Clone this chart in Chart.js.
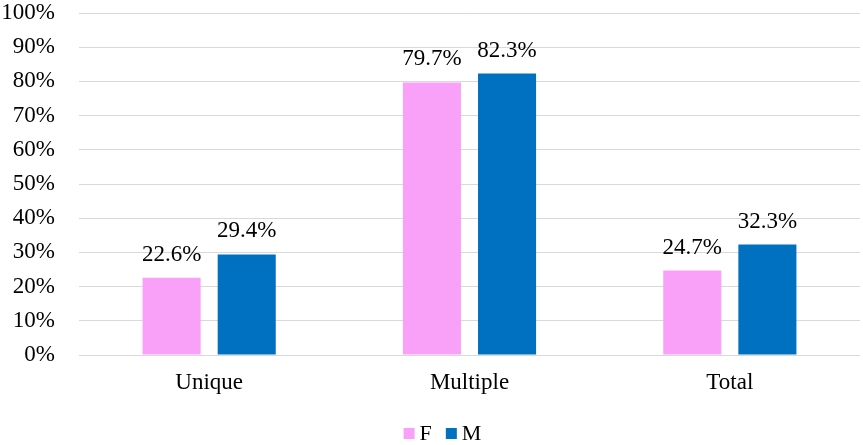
<!DOCTYPE html>
<html>
<head>
<meta charset="utf-8">
<script src="https://cdn.jsdelivr.net/npm/chart.js@4/dist/chart.umd.min.js"></script>
<style>
  html, body { margin: 0; padding: 0; background: #fff; }
  #wrap { width: 863px; height: 445px; }
</style>
</head>
<body>
<div id="wrap"><canvas id="c" width="863" height="445"></canvas></div>
<script>
// Share of cases by type and sex
const categories = ['Unique', 'Multiple', 'Total'];
const femaleValues = [22.6, 79.7, 24.7];
const maleValues = [29.4, 82.3, 32.3];
const seriesNames = ['F', 'M'];
const yTicks = [0, 10, 20, 30, 40, 50, 60, 70, 80, 90, 100];

const FONT = "'Times New Roman', 'Liberation Serif', serif";
const FONT_SIZE = 23;
const LEGEND_FONT_SIZE = 22;

// Value labels drawn above every bar
const barValueLabels = {
  id: 'barValueLabels',
  afterDatasetsDraw(chart) {
    const ctx = chart.ctx;
    ctx.save();
    ctx.font = FONT_SIZE + 'px ' + FONT;
    ctx.fillStyle = '#000';
    ctx.textAlign = 'center';
    ctx.textBaseline = 'alphabetic';
    chart.data.datasets.forEach((ds, i) => {
      const meta = chart.getDatasetMeta(i);
      meta.data.forEach((bar, j) => {
        ctx.fillText(ds.data[j].toFixed(1) + '%', bar.x, bar.y - 17);
      });
    });
    ctx.restore();
  }
};

// Compact legend row under the axis: square swatch, small gap, series name
const compactLegend = {
  id: 'compactLegend',
  afterDraw(chart) {
    const ctx = chart.ctx;
    const box = 11, gap = 5, itemGap = 14;
    ctx.save();
    ctx.font = LEGEND_FONT_SIZE + 'px ' + FONT;
    ctx.textBaseline = 'alphabetic';
    ctx.textAlign = 'left';
    const items = chart.data.datasets.map(ds => ({
      text: ds.label, color: ds.backgroundColor, w: ctx.measureText(ds.label).width
    }));
    const total = items.reduce((s, it) => s + box + gap + it.w, 0) + itemGap * (items.length - 1);
    let x = chart.width / 2 + 11 - total / 2;
    const baseline = chart.height - 5;
    items.forEach(it => {
      ctx.fillStyle = it.color;
      ctx.fillRect(x, baseline - 12, box, box);
      x += box + gap;
      ctx.fillStyle = '#000';
      ctx.fillText(it.text, x, baseline);
      x += it.w + itemGap;
    });
    ctx.restore();
  }
};

new Chart(document.getElementById('c'), {
  type: 'bar',
  data: {
    labels: categories,
    datasets: [
      { label: seriesNames[0], data: femaleValues, backgroundColor: '#F9A1F9' },
      { label: seriesNames[1], data: maleValues, backgroundColor: '#0070C0' }
    ]
  },
  options: {
    responsive: false,
    animation: false,
    layout: { padding: { top: 0, right: 3, left: 0, bottom: 27 } },
    datasets: { bar: { categoryPercentage: 0.577, barPercentage: 0.773 } },
    scales: {
      x: {
        grid: { display: false },
        border: { display: false },
        afterFit(scale) { scale.height = 63; },
        ticks: { color: '#000', font: { family: FONT, size: FONT_SIZE }, padding: 6 }
      },
      y: {
        min: 0,
        max: 100,
        afterBuildTicks(scale) { scale.ticks = yTicks.map(v => ({ value: v })); },
        afterFit(scale) {
          scale.width = 79;
          scale.paddingTop = 13;
          scale.paddingBottom = 0;
        },
        grid: { color: '#D9D9D9', lineWidth: 1, drawTicks: false },
        border: { display: false },
        ticks: {
          color: '#000',
          padding: 24,
          font: { family: FONT, size: FONT_SIZE },
          callback: v => v + '%'
        }
      }
    },
    plugins: {
      legend: { display: false },
      tooltip: { enabled: false }
    }
  },
  plugins: [barValueLabels, compactLegend]
});
</script>
</body>
</html>
